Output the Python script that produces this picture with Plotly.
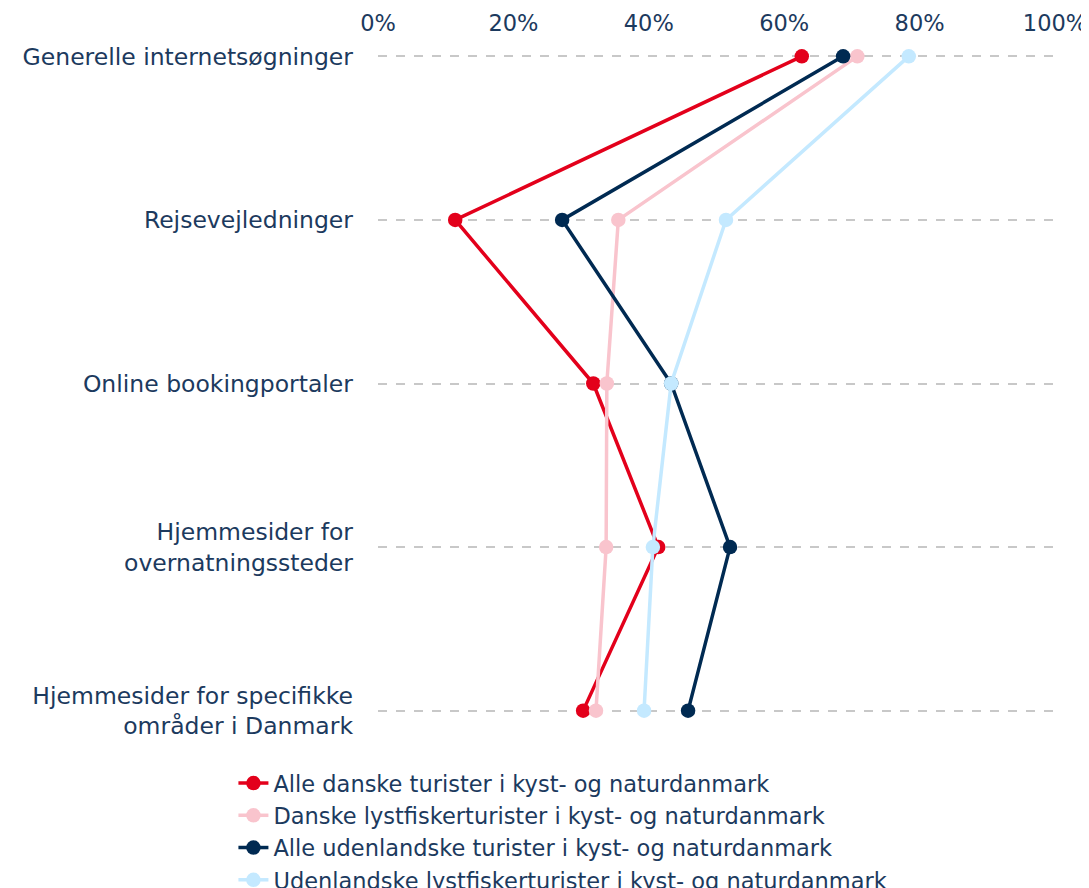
import plotly.graph_objects as go

categories = [
    "Generelle internetsøgninger",
    "Rejsevejledninger",
    "Online bookingportaler",
    "Hjemmesider for<br>overnatningssteder",
    "Hjemmesider for specifikke<br>områder i Danmark",
]
series_names = [
    "Alle danske turister i kyst- og naturdanmark",
    "Danske lystfiskerturister i kyst- og naturdanmark",
    "Alle udenlandske turister i kyst- og naturdanmark",
    "Udenlandske lystfiskerturister i kyst- og naturdanmark",
]
alle_danske = [62.6, 11.4, 31.8, 41.4, 30.3]
danske_lyst = [70.8, 35.5, 33.8, 33.7, 32.2]
alle_udenl = [68.7, 27.2, 43.3, 52.0, 45.8]
udenl_lyst = [78.4, 51.4, 43.3, 40.6, 39.3]
x_ticks = [0, 20, 40, 60, 80, 100]
x_labels = ["0%", "20%", "40%", "60%", "80%", "100%"]

colors = ["#E3001B", "#F9C4CD", "#002A52", "#C4E9FF"]
text_color = "#1C3A5E"
FONT = "DejaVu Sans"

fig = go.Figure()
for name, vals, col in zip(series_names, [alle_danske, danske_lyst, alle_udenl, udenl_lyst], colors):
    fig.add_trace(go.Scatter(
        x=vals, y=categories, mode="lines+markers", name=name,
        line=dict(color=col, width=3.5),
        marker=dict(color=col, size=14.5),
        hovertemplate="%{y}: %{x:.0f}%<extra></extra>",
    ))

fig.update_layout(
    width=1089, height=888,
    margin=dict(l=370, r=42, t=32, b=169, autoexpand=False),
    paper_bgcolor="white", plot_bgcolor="white",
    font=dict(family=FONT, size=23.5, color=text_color),
    showlegend=True,
    legend=dict(
        orientation="v", xref="container", yref="container",
        x=0.207, y=0.151, xanchor="left", yanchor="top",
        font=dict(size=22.5, color=text_color, family=FONT),
        tracegroupgap=0, itemwidth=30,
        bgcolor="rgba(0,0,0,0)",
    ),
    xaxis=dict(
        side="top", range=[0, 100], tickvals=x_ticks, ticktext=x_labels,
        showgrid=False, zeroline=False, showline=False, ticks="",
        tickfont=dict(size=22.5, color=text_color, family=FONT),
        ticklabelstandoff=4,
        fixedrange=True, automargin=False,
    ),
    yaxis=dict(
        categoryorder="array", categoryarray=categories,
        range=[4.1, -0.1], showgrid=True, gridcolor="#C8C8C8", griddash="dash",
        gridwidth=1.5, zeroline=False, showline=False, ticks="",
        ticklabelstandoff=24,
        tickfont=dict(size=23.5, color=text_color, family=FONT),
        fixedrange=True, automargin=False,
    ),
)

fig.write_html("out.html")
